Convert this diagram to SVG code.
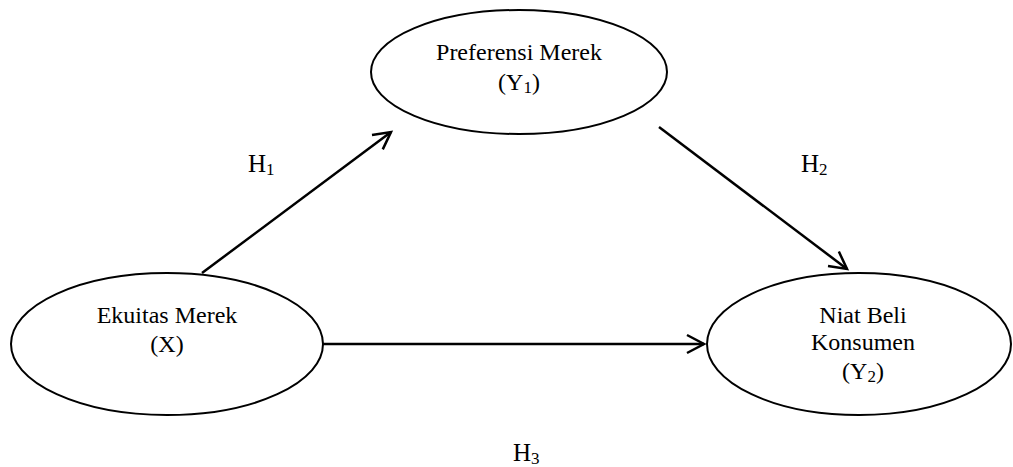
<svg xmlns="http://www.w3.org/2000/svg" width="1013" height="467" viewBox="0 0 1013 467">
<style>
.node{fill:#fff;stroke:#000;stroke-width:2}
.t{font-family:"Liberation Serif","Times New Roman",serif;font-size:24px;fill:#000;text-anchor:middle}
.h{font-family:"Liberation Serif","Times New Roman",serif;font-size:25px;fill:#000}
.sub{font-size:17px}
.edge{stroke:#000;stroke-width:2.5;fill:none;marker-end:url(#arr)}
</style>
<defs>
<marker id="arr" markerUnits="userSpaceOnUse" markerWidth="30" markerHeight="30" viewBox="-20 -15 30 30" refX="0" refY="0" orient="auto" overflow="visible">
<path d="M -17 -9 L 0 0 L -17 9" fill="none" stroke="#000" stroke-width="2.5"/>
</marker>
</defs>
<rect width="1013" height="467" fill="#fff"/>
<g id="connectors">
<line class="edge" x1="202" y1="273" x2="391" y2="132"/>
<line class="edge" x1="659" y1="127" x2="847" y2="269"/>
<line class="edge" x1="323" y1="344" x2="704" y2="344"/>
</g>
<g id="node-preferensi">
<ellipse class="node" cx="519" cy="72" rx="148" ry="62"/>
<text class="t" x="519" y="60">Preferensi Merek</text>
<text class="t" x="519" y="90">(Y<tspan class="sub" dy="3">1</tspan><tspan dy="-3">)</tspan></text>
</g>
<g id="node-ekuitas">
<ellipse class="node" cx="167" cy="344" rx="156" ry="71"/>
<text class="t" x="167" y="323">Ekuitas Merek</text>
<text class="t" x="167" y="352">(X)</text>
</g>
<g id="node-niat">
<ellipse class="node" cx="859" cy="344" rx="152" ry="71"/>
<text class="t" x="863" y="323">Niat Beli</text>
<text class="t" x="863" y="350">Konsumen</text>
<text class="t" x="863" y="379">(Y<tspan class="sub" dy="3">2</tspan><tspan dy="-3">)</tspan></text>
</g>
<g id="labels">
<text class="h" x="248" y="172">H<tspan class="sub" dy="3">1</tspan></text>
<text class="h" x="801" y="172">H<tspan class="sub" dy="3">2</tspan></text>
<text class="h" x="513" y="461">H<tspan class="sub" dy="3">3</tspan></text>
</g>
</svg>
